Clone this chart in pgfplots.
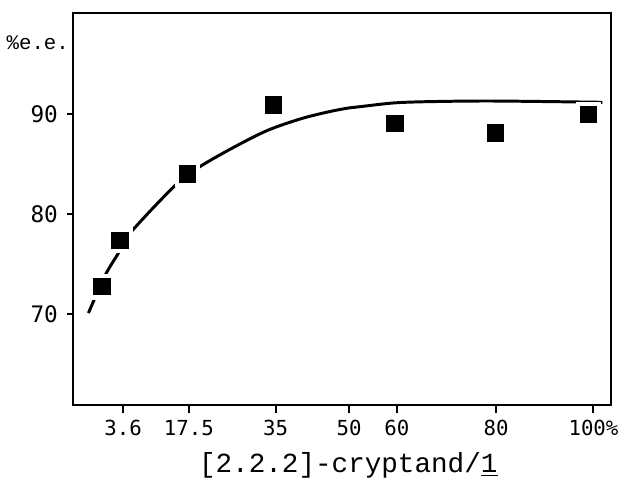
\documentclass[border=0pt]{standalone}
\usepackage{pgfplots}
\pgfplotsset{compat=1.18}
\usepackage{fontspec}
\setmainfont{Liberation Mono}
\newfontfamily\tickfont{DejaVu Sans Mono}

% measured points (x in plot units, y in %e.e.)
\pgfplotstableread{
x y
0.34 72.74
4.02 77.38
17.73 83.99
35.14 90.89
59.78 89.08
80.18 88.12
99.06 89.93
}\measured

% hand-drawn fit curve
\pgfplotstableread{
x y
-2.35 70.10
1.00 73.83
3.67 76.04
6.16 78.12
15.20 82.84
20.22 84.72
27.25 86.70
33.94 88.35
40.62 89.50
45.98 90.17
50.00 90.56
52.67 90.72
59.38 91.09
66.06 91.22
79.46 91.29
101.87 91.16
}\fit

\begin{document}
\begin{tikzpicture}
\begin{axis}[
  scale only axis,
  width=271.65bp, height=197.85bp,
  xmin=-5.42, xmax=103.7,
  ymin=60.9, ymax=100.07,
  axis line style={line width=1bp},
  tick align=outside,
  xtick pos=bottom, ytick pos=left,
  major tick style={line width=1bp, black},
  xtick style={/pgfplots/major tick length=4bp},
  ytick style={/pgfplots/major tick length=3bp},
  xtick={4.68,18.0,35.6,50.5,60.2,80.3,100.06},
  xticklabels={3.6,17.5,35,50,60,80,100\%},
  ytick={70,80,90},
  yticklabels={70,80,90},
  xticklabel style={font=\tickfont\fontsize{10.5}{12}\selectfont},
  yticklabel style={font=\tickfont\fontsize{11.5}{13}\selectfont, xshift=0bp},
  xlabel={[2.2.2]-cryptand/\underline{1}},
  xlabel style={at={(axis description cs:0.511,-0.154)}, anchor=center,
    font=\fontsize{14}{16}\selectfont},
  ylabel={\%e.e.},
  ylabel style={rotate=-90, at={(axis description cs:-0.066,0.925)}, anchor=center,
    font=\fontsize{10.5}{12}\selectfont},
  clip=false,
]
\addplot[black, line width=1.5bp, smooth, tension=0.5] table {\fit};
\addplot[only marks, mark=square*, mark size=6.2bp, white, mark options={fill=white, draw=white}] table {\measured};
\addplot[only marks, mark=square*, mark size=4.15bp, black] table {\measured};
\path (axis description cs:-0.1362,-0.1895) rectangle (axis description cs:1.0142,1.0336);
\end{axis}
\end{tikzpicture}
\end{document}
